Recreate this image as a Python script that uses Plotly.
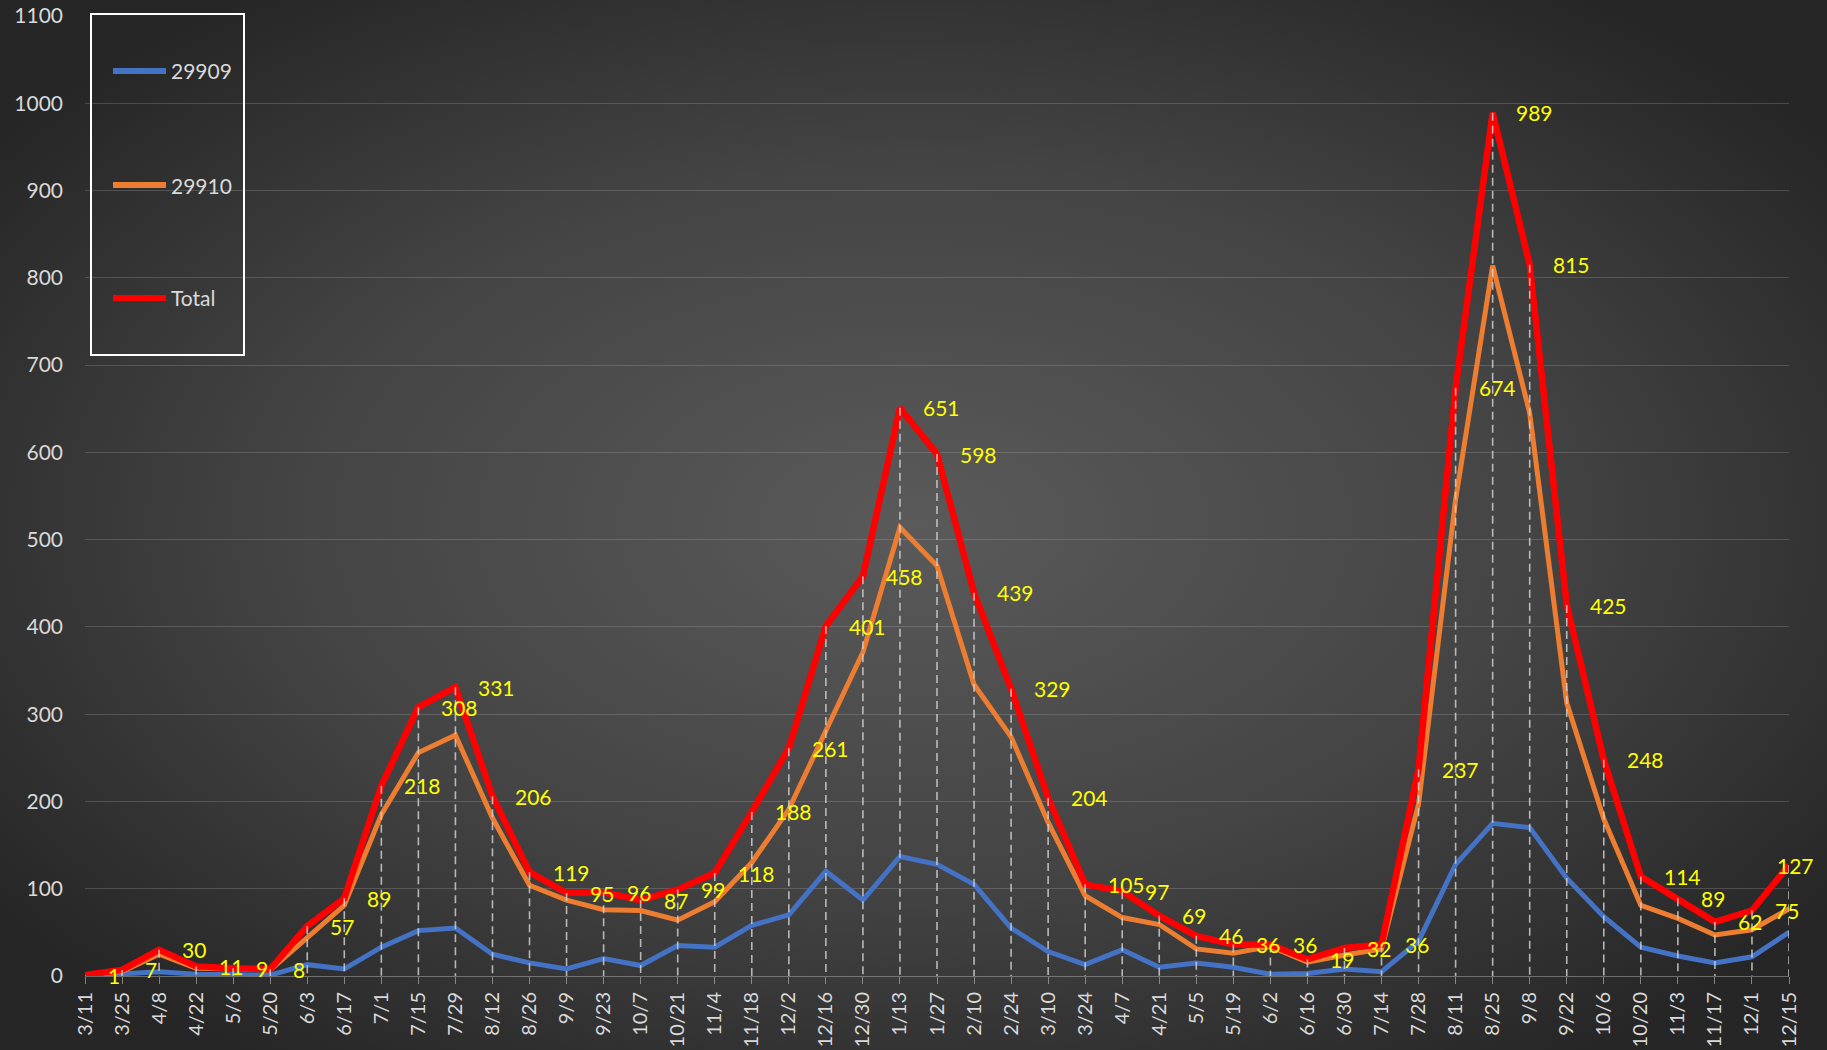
import base64
import plotly.graph_objects as go

dates = ["3/11", "3/25", "4/8", "4/22", "5/6", "5/20", "6/3", "6/17", "7/1", "7/15",
         "7/29", "8/12", "8/26", "9/9", "9/23", "10/7", "10/21", "11/4", "11/18", "12/2",
         "12/16", "12/30", "1/13", "1/27", "2/10", "2/24", "3/10", "3/24", "4/7", "4/21",
         "5/5", "5/19", "6/2", "6/16", "6/30", "7/14", "7/28", "8/11", "8/25", "9/8",
         "9/22", "10/6", "10/20", "11/3", "11/17", "12/1", "12/15"]

s29909 = [0, 2, 5, 2, 1, 1, 13, 8, 33, 52,
          55, 25, 15, 8, 20, 12, 35, 33, 58, 70,
          120, 87, 137, 128, 105, 55, 28, 13, 30, 10,
          15, 10, 2, 3, 8, 5, 40, 128, 175, 170,
          112, 68, 33, 23, 15, 22, 50]

s29910 = [1, 5, 25, 9, 8, 7, 44, 81, 185, 256,
          276, 181, 104, 87, 76, 75, 64, 85, 130, 191,
          281, 371, 514, 470, 334, 274, 176, 92, 67, 59,
          31, 26, 34, 16, 24, 31, 197, 546, 814, 645,
          313, 180, 81, 66, 47, 53, 77]

total = [1, 7, 30, 11, 9, 8, 57, 89, 218, 308,
         331, 206, 119, 95, 96, 87, 99, 118, 188, 261,
         401, 458, 651, 598, 439, 329, 204, 105, 97, 69,
         46, 36, 36, 19, 32, 36, 237, 674, 989, 815,
         425, 248, 114, 89, 62, 75, 127]

y_ticks = list(range(0, 1101, 100))

W, H = 1827, 1050
ML, MR, MT, MB = 85, 38, 16, 74
PW, PH = W - ML - MR, H - MT - MB
FONT = "Lato, 'Open Sans', sans-serif"

def px(x):
    return (x - ML) / PW

def py(y):
    return 1 - (y - MT) / PH

svg = f'''<svg xmlns="http://www.w3.org/2000/svg" width="{W}" height="{H}" viewBox="0 0 {W} {H}" preserveAspectRatio="none">
<defs><radialGradient id="g" cx="50%" cy="50%" r="62%">
<stop offset="0" stop-color="#5a5a5a"/><stop offset="0.55" stop-color="#444444"/><stop offset="1" stop-color="#262626"/>
</radialGradient></defs><rect x="0" y="0" width="{W}" height="{H}" fill="url(#g)"/></svg>'''
bg_src = "data:image/svg+xml;base64," + base64.b64encode(svg.encode()).decode()

fig = go.Figure()
fig.add_trace(go.Scatter(x=dates, y=s29909, mode="lines", name="29909",
                         line=dict(color="#4472C4", width=5), showlegend=False))
fig.add_trace(go.Scatter(x=dates, y=s29910, mode="lines", name="29910",
                         line=dict(color="#ED7D31", width=5), showlegend=False))
fig.add_trace(go.Scatter(x=dates, y=total, mode="lines", name="Total",
                         line=dict(color="#FF0000", width=6.5), showlegend=False))

# drop lines from Total down to axis
dx, dy = [], []
for d, v in zip(dates, total):
    dx += [d, d, None]
    dy += [v, 0, None]
fig.add_trace(go.Scatter(x=dx, y=dy, mode="lines", showlegend=False, hoverinfo="skip",
                         line=dict(color="rgba(215,215,215,0.8)", width=1.6, dash="8px,5px")))

annotations = []
n = len(dates)
for i, (d, v) in enumerate(zip(dates, total)):
    annotations.append(dict(x=d, y=v, xref="x", yref="y", text=str(v), showarrow=False,
                            xanchor="left", yanchor="middle",
                            xshift=21 if i < n - 1 else -14,
                            font=dict(family=FONT, size=21, color="#FFFF00")))

# manual legend
shapes = [dict(type="rect", xref="paper", yref="paper", x0=px(91), x1=px(244), y0=py(355), y1=py(14),
               line=dict(color="white", width=2), fillcolor="rgba(0,0,0,0)")]
leg = [("29909", "#4472C4", 71), ("29910", "#ED7D31", 185), ("Total", "#FF0000", 298)]
for name, col, yy in leg:
    shapes.append(dict(type="line", xref="paper", yref="paper", x0=px(113), x1=px(166),
                       y0=py(yy), y1=py(yy), line=dict(color=col, width=6)))
    annotations.append(dict(x=px(169), y=py(yy), xref="paper", yref="paper", text=name,
                            showarrow=False, xanchor="left", yanchor="middle",
                            font=dict(family=FONT, size=21, color="#d9d9d9")))

fig.update_layout(
    width=W, height=H,
    margin=dict(l=ML, r=MR, t=MT, b=MB),
    paper_bgcolor="#333333",
    plot_bgcolor="rgba(0,0,0,0)",
    font=dict(family=FONT, size=20, color="#d9d9d9"),
    images=[dict(source=bg_src, xref="paper", yref="paper", x=-ML / PW, y=1 + MT / PH,
                 sizex=W / PW, sizey=H / PH, sizing="stretch", layer="below",
                 xanchor="left", yanchor="top")],
    shapes=shapes,
    annotations=annotations,
    xaxis=dict(type="category", range=[0, n - 1], tickangle=-90, showgrid=False,
               ticks="outside", ticklen=7, tickcolor="rgba(190,190,190,0.6)",
               showline=True, linecolor="rgba(190,190,190,0.45)", linewidth=1,
               automargin=False,
               tickfont=dict(family=FONT, size=20, color="#d9d9d9")),
    yaxis=dict(range=[0, 1100], tickvals=y_ticks, showgrid=True,
               gridcolor="rgba(200,200,200,0.22)", gridwidth=1.3, zeroline=False,
               showline=False, ticks="", ticklabelstandoff=21, automargin=False,
               tickfont=dict(family=FONT, size=21, color="#d9d9d9")),
)

fig.write_html("out.html", config={"displayModeBar": False},
               post_script="document.body.style.margin='0';document.body.style.overflow='hidden';")
